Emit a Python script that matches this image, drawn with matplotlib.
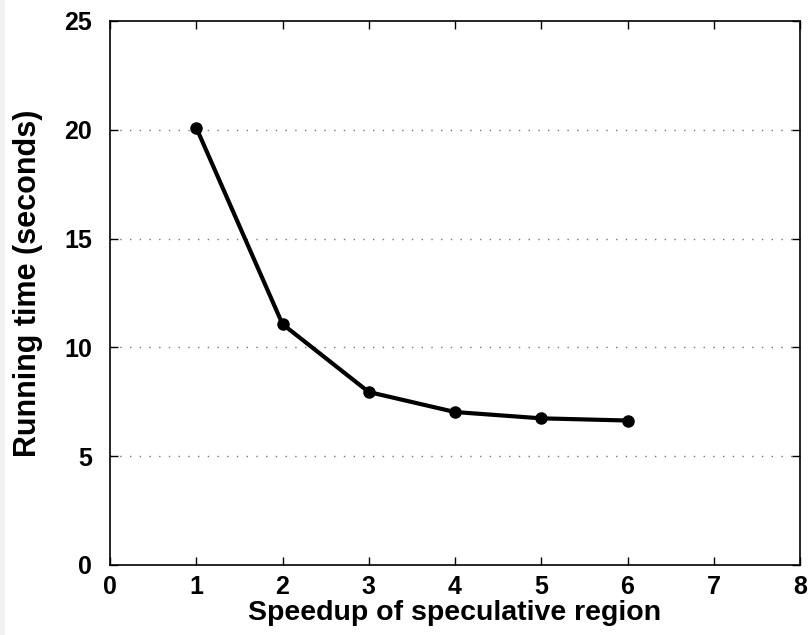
import matplotlib
matplotlib.use('Agg')
import matplotlib.pyplot as plt
from matplotlib.patches import Rectangle

# speedup of speculative region vs running time
speedup = [1, 2, 3, 4, 5, 6]
run_time = [20.1, 11.07, 7.95, 7.03, 6.74, 6.64]
xticks = [0, 1, 2, 3, 4, 5, 6, 7, 8]
yticks = [0, 5, 10, 15, 20, 25]

plt.rcParams['font.family'] = ['Liberation Sans', 'DejaVu Sans']
plt.rcParams['font.weight'] = 'bold'

fig = plt.figure(figsize=(8.08, 6.35), dpi=100)
fig.patches.append(Rectangle((0, 0), 5/808, 1, transform=fig.transFigure,
                             facecolor='#f0f0f0', edgecolor='none', zorder=0))
ax = fig.add_axes([110/808, 70/635, 690/808, 544/635])

for y in yticks[1:-1]:
    ax.axhline(y, color='#777777', lw=1.0, ls=(0, (1, 6)), zorder=1)

ax.plot(speedup, run_time, color='black', lw=3, marker='o', ms=8, zorder=3)

ax.set_xlim(0, 8)
ax.set_ylim(0, 25)
ax.set_xticks(xticks)
ax.set_yticks(yticks)
ax.tick_params(direction='in', length=6, width=1, top=True, right=True,
               labelsize=18)
ax.tick_params(axis='x', pad=7)
ax.tick_params(axis='y', pad=13)
for s in ax.spines.values():
    s.set_linewidth(1.2)

ax.set_xlabel('Speedup of speculative region', fontsize=20.5, fontweight='bold', labelpad=1)
ax.set_ylabel('Running time (seconds)', fontsize=22, fontweight='bold')
ax.yaxis.set_label_coords(-0.097, 0.518)

fig.savefig('out.png', dpi=100)
